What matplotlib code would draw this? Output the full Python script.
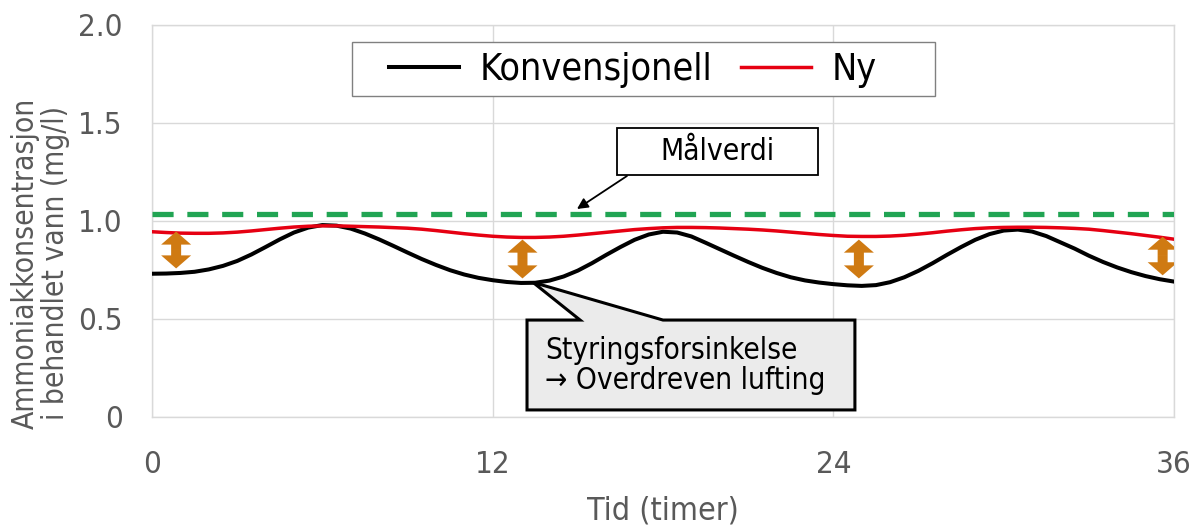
import matplotlib
matplotlib.use("Agg")
import matplotlib.pyplot as plt
from matplotlib.patches import FancyArrowPatch, Polygon, Rectangle
from matplotlib.lines import Line2D

plt.rcParams["font.family"] = ["DejaVu Sans"]
plt.rcParams["font.stretch"] = "condensed"

# ---- data -------------------------------------------------------------
hours = [h / 2 for h in range(0, 73)]
conventional = [
    0.730, 0.731, 0.734, 0.740, 0.752, 0.770, 0.795, 0.828, 0.866, 0.905,
    0.940, 0.965, 0.978, 0.975, 0.960, 0.935, 0.905, 0.872, 0.838, 0.805,
    0.775, 0.748, 0.726, 0.709, 0.697, 0.688, 0.683, 0.684, 0.695, 0.716,
    0.746, 0.784, 0.826, 0.866, 0.903, 0.930, 0.944, 0.940, 0.920, 0.888,
    0.855, 0.822, 0.790, 0.760, 0.734, 0.712, 0.696, 0.685, 0.677, 0.671,
    0.668, 0.672, 0.687, 0.712, 0.745, 0.784, 0.826, 0.866, 0.903, 0.932,
    0.950, 0.955, 0.945, 0.922, 0.890, 0.858, 0.822, 0.790, 0.762, 0.738,
    0.718, 0.702, 0.690]
new_control = [
    0.944, 0.940, 0.937, 0.936, 0.936, 0.938, 0.942, 0.948, 0.955, 0.962,
    0.968, 0.972, 0.974, 0.974, 0.972, 0.970, 0.968, 0.965, 0.962, 0.957,
    0.950, 0.942, 0.934, 0.927, 0.921, 0.917, 0.915, 0.915, 0.917, 0.921,
    0.927, 0.934, 0.941, 0.948, 0.955, 0.960, 0.964, 0.966, 0.966, 0.965,
    0.963, 0.960, 0.957, 0.953, 0.948, 0.942, 0.936, 0.930, 0.925, 0.921,
    0.920, 0.920, 0.922, 0.926, 0.932, 0.939, 0.947, 0.954, 0.960, 0.964,
    0.966, 0.967, 0.967, 0.966, 0.964, 0.961, 0.957, 0.950, 0.942, 0.934,
    0.925, 0.916, 0.906]
target_value = 1.035

# double arrows marking the gap between the two curves
gap_hours = [0.85, 13.05, 24.9, 35.6]
gap_low = [0.757, 0.706, 0.706, 0.722]
gap_high = [0.945, 0.904, 0.904, 0.919]

x_ticks = [0, 12, 24, 36]
x_tick_labels = ["0", "12", "24", "36"]
y_ticks = [0, 0.5, 1.0, 1.5, 2.0]
y_tick_labels = ["0", "0.5", "1.0", "1.5", "2.0"]

series_labels = ["Konvensjonell", "Ny"]

# ---- styling ----------------------------------------------------------
W, H = 1198, 525
grey_text = "#595959"
grid_col = "#d9d9d9"
black_col = "#000000"
red_col = "#e60012"
green_col = "#21a453"
orange_col = "#cf7a12"

fig = plt.figure(figsize=(W / 100, H / 100), dpi=100)
ax = fig.add_axes([152 / W, 1 - 417 / H, (1174 - 152) / W, (417 - 24.5) / H])

ax.set_xlim(0, 36)
ax.set_ylim(0, 2.0)
ax.set_xticks(x_ticks)
ax.set_xticklabels(x_tick_labels)
ax.set_yticks(y_ticks)
ax.set_yticklabels(y_tick_labels)
ax.tick_params(axis="both", length=0, labelsize=22.5, colors=grey_text)
ax.tick_params(axis="x", pad=24)
ax.tick_params(axis="y", pad=21)
ax.grid(True, color=grid_col, linewidth=1.0)
ax.set_axisbelow(True)
for sp in ax.spines.values():
    sp.set_color(grid_col)
    sp.set_linewidth(1.0)

# curves
ax.plot(hours, conventional, color=black_col, lw=2.9, zorder=3)
ax.plot(hours, new_control, color=red_col, lw=2.5, zorder=4)

# target line
ax.axhline(target_value, color=green_col, lw=3.8, dashes=(4.0, 2.6),
           dash_capstyle="butt", zorder=3)

# gap arrows: two filled arrows pointing outward from the middle
for t, lo, hi in zip(gap_hours, gap_low, gap_high):
    mid = (lo + hi) / 2
    for end in (lo, hi):
        ax.add_patch(FancyArrowPatch(
            (t, mid), (t, end),
            arrowstyle="simple,head_width=1.08,head_length=0.47,tail_width=0.36",
            mutation_scale=20, color=orange_col, lw=0, zorder=5,
            shrinkA=0, shrinkB=0))

# target label box with pointer
ax.add_patch(Rectangle((16.38, 1.233), 7.08, 0.240, facecolor="white",
                       edgecolor="black", lw=1.3, zorder=6))
ax.text(19.92, 1.353, "Målverdi", fontsize=21.5, ha="center", va="center",
        color="black", zorder=7)
ax.annotate("", xy=(14.97, 1.06), xytext=(16.73, 1.228),
            arrowprops=dict(arrowstyle="-|>", color="black", lw=1.3,
                            mutation_scale=16, shrinkA=0, shrinkB=0),
            zorder=6)

# callout pointing to the delayed minimum
callout = Polygon([(13.21, 0.036), (13.21, 0.494), (15.08, 0.494),
                   (13.42, 0.686), (18.0, 0.494), (24.76, 0.494),
                   (24.76, 0.036)], closed=True, facecolor="#ebebeb",
                  edgecolor="black", lw=2.2, joinstyle="miter", zorder=6)
ax.add_patch(callout)
ax.text(13.84, 0.262, "Styringsforsinkelse\n\u2192 Overdreven lufting",
        fontsize=21.3, ha="left", va="center", color="black",
        linespacing=1.05, zorder=7)

# axis labels
ax.set_xlabel("Tid (timer)", fontsize=23, color=grey_text, labelpad=12)
fig.text(40 / W, 1 - 263 / H,
         "Ammoniakkonsentrasjon\ni behandlet vann (mg/l)",
         rotation=90, ha="center", va="center", fontsize=21.5,
         color=grey_text, linespacing=1.05, multialignment="center")

# legend: framed box with both series side by side
ax.add_patch(Rectangle((352 / W, 1 - 96 / H), (935 - 352) / W, 54 / H,
                       transform=fig.transFigure, facecolor="white",
                       edgecolor="#808080", lw=1.0, zorder=8,
                       clip_on=False))
handles = [Line2D([], [], color=black_col, lw=2.9),
           Line2D([], [], color=red_col, lw=2.5)]
leg = ax.legend(handles, series_labels, ncol=2, loc="center",
                bbox_to_anchor=(633 / W, 1 - 70 / H),
                bbox_transform=fig.transFigure, fontsize=27,
                frameon=False, handlelength=1.87, handletextpad=0.55,
                columnspacing=0.75, borderpad=0.0, borderaxespad=0)
leg.set_zorder(9)

fig.savefig("out.png", dpi=100)
